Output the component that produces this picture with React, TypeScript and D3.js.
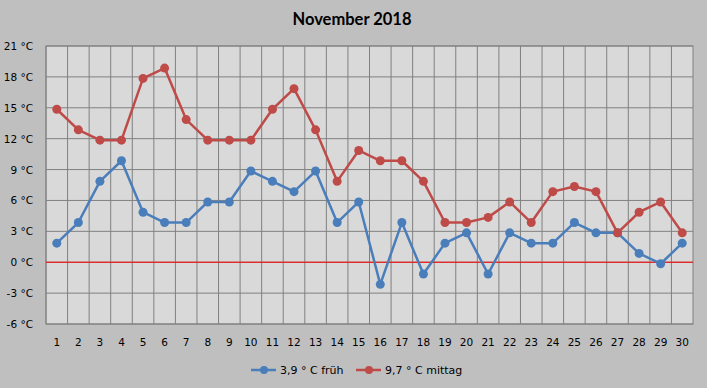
import React from "react";
import * as d3 from "d3";

const days = d3.range(1, 31).map(String);
const frueh = [2, 4, 8, 10, 5, 4, 4, 6, 6, 9, 8, 7, 9, 4, 6, -2, 4, -1, 2, 3, -1, 3, 2, 2, 4, 3, 3, 1, 0, 2];
const mittag = [15, 13, 12, 12, 18, 19, 14, 12, 12, 12, 15, 17, 13, 8, 11, 10, 10, 8, 4, 4, 4.5, 6, 4, 7, 7.5, 7, 3, 5, 6, 3];
const yTicks = [21, 18, 15, 12, 9, 6, 3, 0, -3, -6];
const seriesNames = ["3,9 ° C früh", "9,7 ° C mittag"];
const colors = ["#4a7ebb", "#be4b48"];

const W = 707, H = 388;
const L = 46, R = 693, T = 46, B = 324;

export default function App() {
  const x = d3.scaleBand<string>().domain(days).range([L, R]);
  const y = d3.scaleLinear().domain([-6, 21]).range([B, T]);
  const cx = (d: string) => (x(d) as number) + x.bandwidth() / 2;
  const line = d3.line<number>().x((_, i) => cx(days[i])).y((v) => y(v));
  const series = [frueh, mittag];
  const legendX = [251, 356];
  const font = "'DejaVu Sans', Verdana, sans-serif";
  return (
    <svg width={W} height={H} style={{ position: "absolute", left: 0, top: 0 }}>
      <rect x={0} y={0} width={W} height={H} fill="#bfbfbf" />
      <text x={352} y={25} textAnchor="middle" fontFamily="Lato, 'Open Sans', sans-serif" fontWeight="bold" fontSize={16.5} fill="#000">November 2018</text>
      <rect x={L} y={T} width={R - L} height={B - T} fill="#d9d9d9" />
      {yTicks.map((t) => (
        <g key={t}>
          <line x1={L} x2={R} y1={y(t)} y2={y(t)} stroke="#808080" strokeWidth={1} />
          <text x={33} y={y(t) + 4} textAnchor="end" fontFamily={font} fontSize={10.5} fill="#000">{t} °C</text>
        </g>
      ))}
      {days.map((d) => (
        <line key={"v" + d} x1={x(d)} x2={x(d)} y1={T} y2={B} stroke="#808080" strokeWidth={1} />
      ))}
      <rect x={L} y={T} width={R - L} height={B - T} fill="none" stroke="#808080" strokeWidth={1} />
      <line x1={L} x2={R} y1={y(0)} y2={y(0)} stroke="#ff0000" strokeWidth={1} />
      {days.map((d) => (
        <text key={"xl" + d} x={cx(d)} y={346} textAnchor="middle" fontFamily={font} fontSize={10.5} fill="#000">{d}</text>
      ))}
      <g transform="translate(0,1.5)">
        {series.map((s, k) => (
          <g key={k}>
            <path d={line(s) as string} fill="none" stroke={colors[k]} strokeWidth={2.5} strokeLinejoin="round" />
            {s.map((v, i) => (
              <circle key={i} cx={cx(days[i])} cy={y(v)} r={4.5} fill={colors[k]} />
            ))}
          </g>
        ))}
      </g>
      {seriesNames.map((n, k) => (
        <g key={n}>
          <line x1={legendX[k]} x2={legendX[k] + 25} y1={370} y2={370} stroke={colors[k]} strokeWidth={2.5} />
          <circle cx={legendX[k] + 13} cy={370} r={4} fill={colors[k]} />
          <text x={legendX[k] + 29} y={374} fontFamily={font} fontSize={11} fill="#000">{n}</text>
        </g>
      ))}
    </svg>
  );
}
